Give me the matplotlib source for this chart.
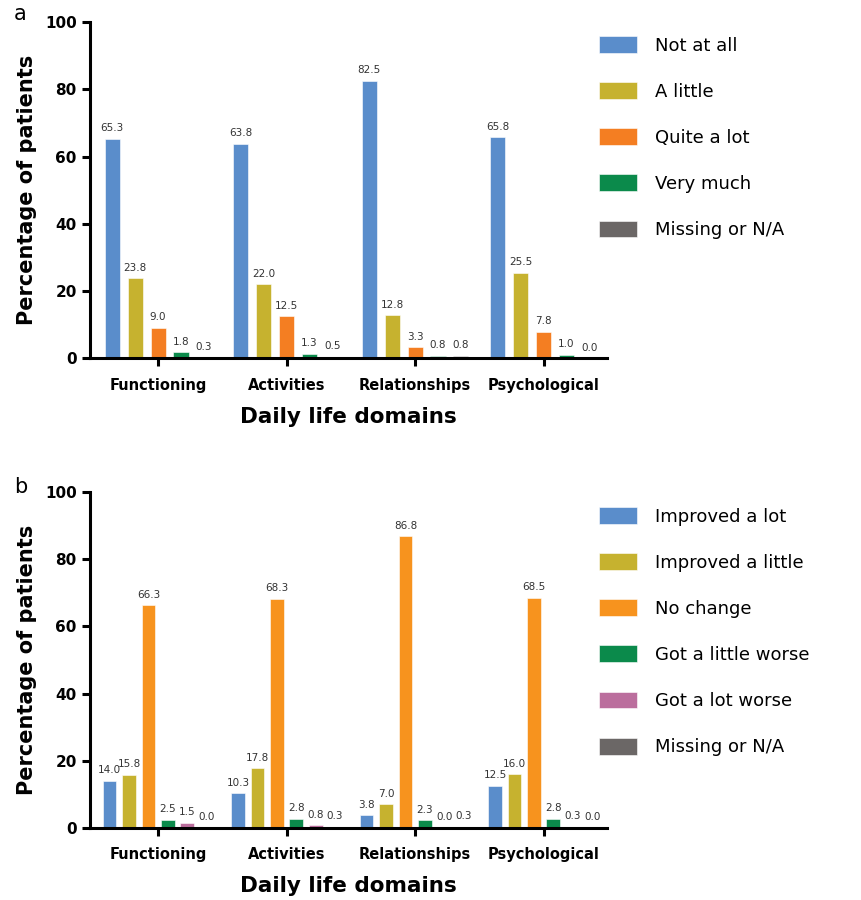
import numpy as np
import matplotlib
matplotlib.use("Agg")
import matplotlib.pyplot as plt

domains = ["Functioning", "Activities", "Relationships", "Psychological"]

# panel a: impact on daily life
labels_a = ["Not at all", "A little", "Quite a lot", "Very much", "Missing or N/A"]
not_at_all = [65.3, 63.8, 82.5, 65.8]
a_little = [23.8, 22.0, 12.8, 25.5]
quite_a_lot = [9.0, 12.5, 3.3, 7.8]
very_much = [1.8, 1.3, 0.8, 1.0]
missing_a = [0.3, 0.5, 0.8, 0.0]
colors_a = ["#5a8dcb", "#c6b22f", "#f47e22", "#0b8a4b", "#6b6766"]

# panel b: change since treatment
labels_b = ["Improved a lot", "Improved a little", "No change",
            "Got a little worse", "Got a lot worse", "Missing or N/A"]
improved_lot = [14.0, 10.3, 3.8, 12.5]
improved_little = [15.8, 17.8, 7.0, 16.0]
no_change = [66.3, 68.3, 86.8, 68.5]
little_worse = [2.5, 2.8, 2.3, 2.8]
lot_worse = [1.5, 0.8, 0.0, 0.3]
missing_b = [0.0, 0.3, 0.3, 0.0]
colors_b = ["#5a8dcb", "#c6b22f", "#f7931e", "#0b8a4b", "#bb6e9d", "#6b6766"]

plt.rcParams["font.family"] = "DejaVu Sans"

fig = plt.figure(figsize=(8.61, 9.0), dpi=100)
ax_a = fig.add_axes([0.1045, 0.602, 0.600, 0.3733])
ax_b = fig.add_axes([0.1045, 0.080, 0.600, 0.3733])


def draw_panel(ax, series, labels, colors, step, width, legend_top):
    x = np.arange(len(domains))
    n = len(series)
    for i, (vals, lab, col) in enumerate(zip(series, labels, colors)):
        pos = x + (i - (n - 1) / 2) * step
        ax.bar(pos, vals, width, color=col, label=lab, edgecolor="white",
               linewidth=0.4)
        for p, v in zip(pos, vals):
            ax.annotate(f"{v:.1f}", (p, v), xytext=(0, 4),
                        textcoords="offset points", ha="center", va="bottom",
                        fontsize=7.5, color="#333333")
    ax.set_xlim(-0.53, 3.49)
    ax.set_ylim(0, 100)
    ax.set_yticks([0, 20, 40, 60, 80, 100])
    ax.set_xticks(x)
    ax.set_xticklabels(domains, fontsize=10.5, fontweight="bold")
    for t in ax.get_yticklabels():
        t.set_fontsize(11)
        t.set_fontweight("bold")
    ax.spines["top"].set_visible(False)
    ax.spines["right"].set_visible(False)
    ax.spines["left"].set_linewidth(2.2)
    ax.spines["bottom"].set_linewidth(2.2)
    ax.tick_params(axis="both", width=2.2, length=6, color="black")
    ax.tick_params(axis="x", pad=8)
    ax.set_ylabel("Percentage of patients", fontsize=15, fontweight="bold",
                  labelpad=6)
    ax.set_xlabel("Daily life domains", fontsize=15.5, fontweight="bold",
                  labelpad=10)
    ax.legend(loc="upper left", bbox_to_anchor=(599 / 861, legend_top),
              bbox_transform=fig.transFigure, frameon=False, fontsize=13,
              handlelength=2.1, handleheight=1.05, handletextpad=1.0,
              labelspacing=1.53, borderpad=0, borderaxespad=0)


draw_panel(ax_a, [not_at_all, a_little, quite_a_lot, very_much, missing_a],
           labels_a, colors_a, 0.178, 0.118, 1 - 36 / 900)
draw_panel(ax_b, [improved_lot, improved_little, no_change, little_worse,
                  lot_worse, missing_b],
           labels_b, colors_b, 0.151, 0.106, 1 - 507 / 900)

fig.text(14 / 861, 1 - 14 / 900, "a", fontsize=15, va="center", ha="left")
fig.text(14 / 861, 1 - 487 / 900, "b", fontsize=15, va="center", ha="left")

fig.savefig("out.png", dpi=100)
